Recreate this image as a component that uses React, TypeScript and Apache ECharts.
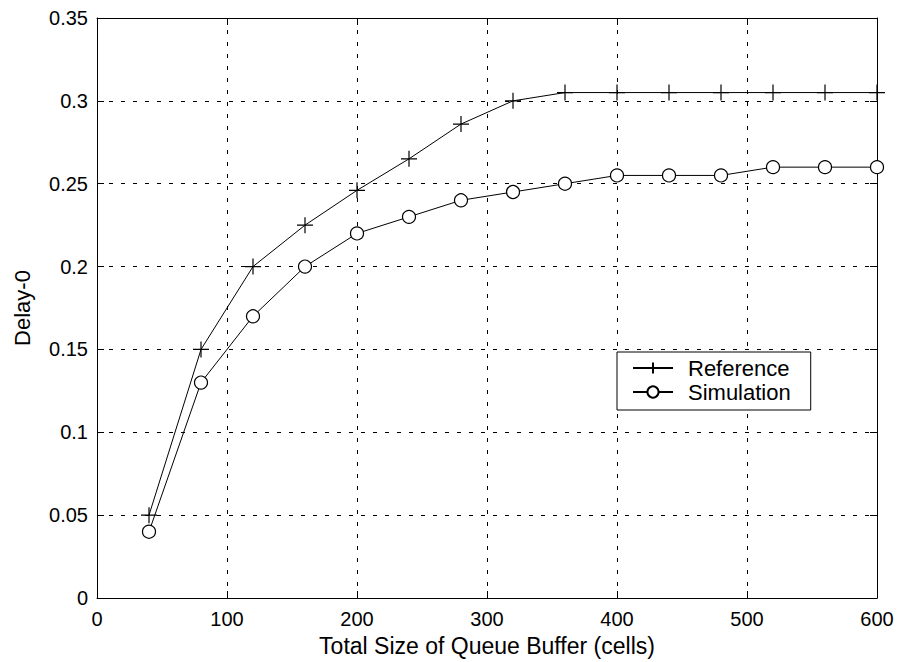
import React, { useEffect, useRef } from "react";
import * as echarts from "echarts";

const xValues = [40, 80, 120, 160, 200, 240, 280, 320, 360, 400, 440, 480, 520, 560, 600];
const referenceValues = [0.05, 0.15, 0.2, 0.225, 0.246, 0.265, 0.286, 0.3, 0.305, 0.305, 0.305, 0.305, 0.305, 0.305, 0.305];
const simulationValues = [0.04, 0.13, 0.17, 0.2, 0.22, 0.23, 0.24, 0.245, 0.25, 0.255, 0.255, 0.255, 0.26, 0.26, 0.26];
const seriesNames = ["Reference", "Simulation"];
const xTitle = "Total Size of Queue Buffer (cells)";
const yTitle = "Delay-0";

const FONT = "'Liberation Sans', Arial, Helvetica, sans-serif";
const PLUS = "path://M5,0 L5,10 M0,5 L10,5";

export default function App() {
  const ref = useRef<HTMLDivElement>(null);
  useEffect(() => {
    if (!ref.current) return;
    const chart = echarts.init(ref.current, undefined, { renderer: "svg" });
    const gridLine = { show: true, lineStyle: { color: "#000", width: 1, type: [4, 8] as any } };
    const axisLine = { show: true, onZero: false, lineStyle: { color: "#000", width: 1 } };
    const tick = { show: true, inside: true, length: 7, lineStyle: { color: "#000", width: 1 } };
    const labelStyle = { color: "#000", fontSize: 20, fontFamily: FONT };
    chart.setOption({
      animation: false,
      backgroundColor: "#fff",
      grid: { left: 97, right: 24, top: 18, bottom: 64, containLabel: false },
      legend: {
        left: 617,
        top: 352,
        orient: "vertical",
        data: seriesNames,
        itemWidth: 40,
        itemHeight: 14,
        itemGap: 0,
        padding: [4, 20, 6, 15],
        borderColor: "#000",
        borderWidth: 1,
        borderRadius: 0,
        backgroundColor: "#fff",
        textStyle: { color: "#000", fontSize: 22, fontFamily: FONT, lineHeight: 24, padding: [0, 0, 0, 10] },
      },
      xAxis: [
        {
          type: "value",
          min: 0,
          max: 600,
          interval: 100,
          name: xTitle,
          nameLocation: "middle",
          nameGap: 36,
          nameTextStyle: { color: "#000", fontSize: 23, fontFamily: FONT },
          axisLine,
          axisTick: tick,
          axisLabel: { ...labelStyle, margin: 11 },
          splitLine: gridLine,
        },
        {
          type: "value",
          position: "top",
          min: 0,
          max: 600,
          interval: 100,
          axisLine,
          axisTick: tick,
          axisLabel: { show: false },
          splitLine: { show: false },
        },
      ],
      yAxis: [
        {
          type: "value",
          min: 0,
          max: 0.35,
          interval: 0.05,
          name: yTitle,
          nameLocation: "middle",
          nameGap: 64,
          nameTextStyle: { color: "#000", fontSize: 22, fontFamily: FONT },
          axisLine,
          axisTick: tick,
          axisLabel: { ...labelStyle, margin: 9 },
          splitLine: gridLine,
        },
        {
          type: "value",
          position: "right",
          min: 0,
          max: 0.35,
          interval: 0.05,
          axisLine,
          axisTick: tick,
          axisLabel: { show: false },
          splitLine: { show: false },
        },
      ],
      series: [
        {
          name: seriesNames[0],
          type: "line",
          smooth: false,
          data: xValues.map((x, i) => [x, referenceValues[i]]),
          symbol: PLUS,
          symbolSize: 16,
          showAllSymbol: true,
          lineStyle: { color: "#000", width: 1 },
          itemStyle: { color: "#000", borderColor: "#000", borderWidth: 1.2 },
        },
        {
          name: seriesNames[1],
          type: "line",
          smooth: false,
          data: xValues.map((x, i) => [x, simulationValues[i]]),
          symbol: "circle",
          symbolSize: 13,
          showAllSymbol: true,
          lineStyle: { color: "#000", width: 1 },
          itemStyle: { color: "#fff", borderColor: "#000", borderWidth: 1.2 },
        },
      ],
    });
    return () => chart.dispose();
  }, []);
  return <div ref={ref} style={{ position: "fixed", left: 0, top: 0, width: 901, height: 662 }} />;
}
